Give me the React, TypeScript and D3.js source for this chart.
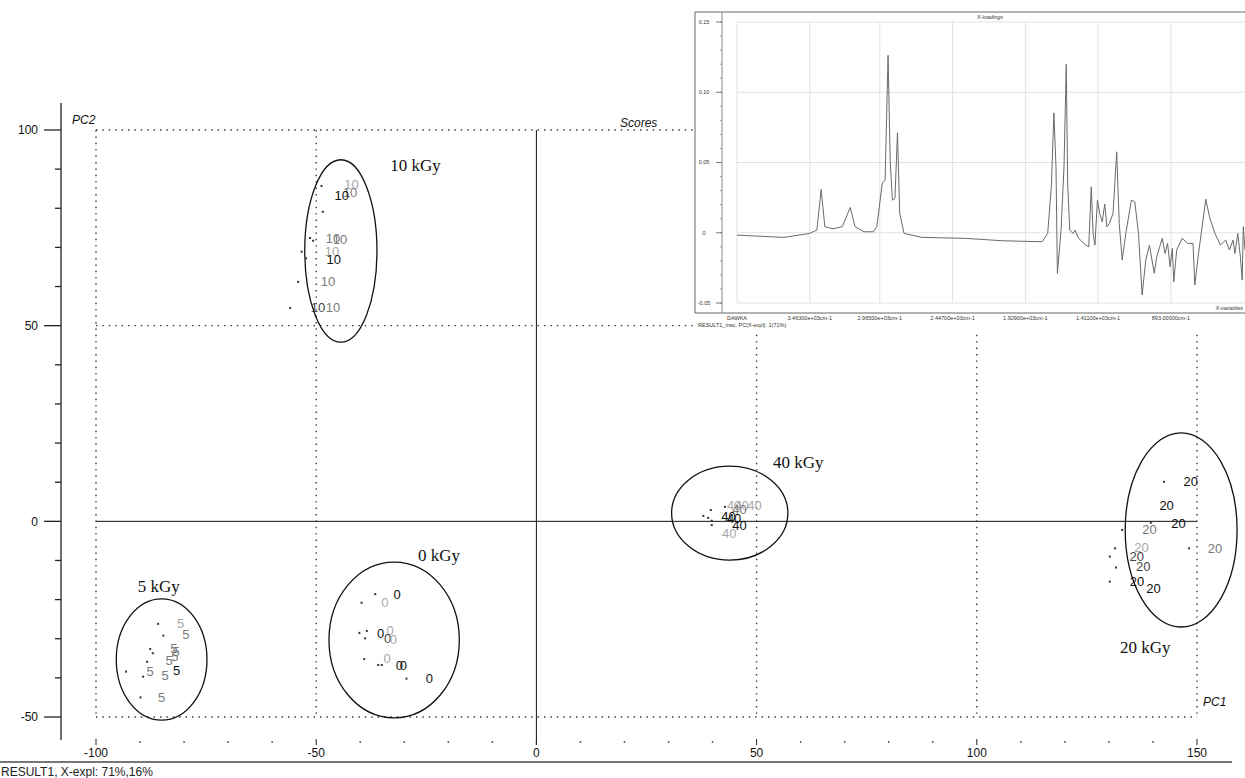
import React, { useEffect, useRef } from 'react';
import * as d3 from 'd3';

const W = 1245;
const H = 778;

// score labels per dose: [PC1, PC2, tone]  tone: 0 black, 1 dark, 2 grey, 3 light
const dose = ['10', '5', '0', '40', '20'];
const labels10 = [[-42.0, 86.0, 3], [-42.3, 84.2, 2], [-44.2, 83.4, 0], [-46.2, 72.4, 2], [-44.6, 72.1, 2],
  [-46.4, 69.1, 3], [-46.0, 67.0, 0], [-47.3, 61.4, 2], [-49.6, 54.8, 1], [-46.2, 54.8, 2]];
const labels5 = [[-80.8, -26.0, 3], [-79.6, -28.8, 2], [-82.3, -32.5, 2], [-81.8, -33.3, 2], [-82.1, -34.4, 2],
  [-83.4, -35.6, 2], [-81.7, -38.0, 0], [-84.3, -39.3, 2], [-87.7, -38.2, 2], [-85.1, -45.0, 2]];
const labels0 = [[-31.6, -18.6, 0], [-34.4, -20.8, 3], [-35.4, -28.5, 0], [-33.2, -27.8, 3], [-33.8, -29.9, 1],
  [-32.5, -30.2, 3], [-33.9, -35.0, 3], [-31.1, -36.7, 0], [-30.2, -36.7, 0], [-24.3, -40.1, 0]];
const labels40 = [[44.9, 4.2, 3], [46.6, 4.2, 3], [49.5, 4.2, 3], [46.1, 3.1, 2], [43.6, 1.4, 0],
  [44.9, 0.8, 0], [46.1, -0.95, 0], [43.8, -3.1, 3]];
const labels20 = [[148.6, 10.1, 0], [143.1, 4.2, 0], [145.8, -0.5, 0], [139.2, -2.0, 2], [137.4, -6.6, 3],
  [154.1, -6.9, 2], [136.3, -8.9, 1], [137.8, -11.6, 1], [136.4, -15.4, 0], [140.1, -17.1, 0]];

// sample markers [PC1, PC2]
const dots10 = [[-48.8, 85.7], [-48.5, 79.1], [-51.4, 72.4], [-50.7, 71.7], [-53.3, 68.9], [-52.3, 67.2], [-54.1, 61.2], [-55.9, 54.5]];
const dots5 = [[-85.9, -26.2], [-84.7, -29.2], [-87.7, -32.6], [-87.1, -33.7], [-88.4, -35.9], [-93.2, -38.4], [-89.3, -39.7], [-89.9, -45.0]];
const dots0 = [[-36.6, -18.6], [-39.7, -20.8], [-40.2, -28.5], [-38.5, -28.0], [-38.9, -29.9], [-39.1, -35.2], [-35.9, -36.7], [-35.1, -36.7], [-29.5, -40.2]];
const dots40 = [[37.9, 1.4], [39.0, 0.9], [39.8, 0.15], [39.6, 2.9], [42.8, 3.7], [39.8, -0.95]];
const dots20 = [[142.5, 10.1], [139.5, -0.35], [133.0, -2.2], [131.4, -6.9], [148.2, -6.9], [130.2, -9.0], [131.6, -11.8], [130.2, -15.4]];

// group ellipses [cx, cy, rx, ry] and caption anchor [PC1, PC2]
const ellipses = [[-44.4, 69.1, 8.2, 23.3], [-85.1, -35.3, 10.3, 15.5], [-32.3, -30.3, 14.8, 19.9], [43.9, 2.1, 13.2, 12.0], [146.4, -2.2, 12.7, 24.8]];
const captions = [[-33.2, 89.5], [-90.5, -18.0], [-26.9, -10.1], [53.7, 13.6], [132.5, -33.7]];

const xTicks = [-100, -50, 0, 50, 100, 150];
const yTicks = [-50, 0, 50, 100];

// inset X-loadings, PC1
const waveNumbers = [3982, 3646, 3465, 3413, 3382, 3356, 3297, 3232, 3175, 3141, 3077, 3012, 2986, 2947, 2927, 2906, 2891,
  2875, 2857, 2839, 2823, 2792, 2663, 2352, 2094, 1809, 1770, 1744, 1726, 1711, 1701, 1675, 1654, 1638, 1628, 1613, 1589,
  1576, 1550, 1499, 1478, 1460, 1447, 1434, 1416, 1400, 1382, 1364, 1349, 1331, 1305, 1279, 1261, 1240, 1214, 1175, 1150,
  1124, 1098, 1072, 1046, 1028, 1012, 994, 955, 935, 917, 899, 883, 873, 852, 813, 774, 736, 723, 697, 671, 645, 619, 580,
  541, 503, 477, 451, 438, 417, 399, 386, 378, 366];
const loadings = [-0.0017, -0.0033, -0.0005, 0.0019, 0.0308, 0.0043, 0.0028, 0.0043, 0.018, 0.0043, 0.0007, 0.0007, 0.0043,
  0.0355, 0.0374, 0.1263, 0.0517, 0.0232, 0.0244, 0.0711, 0.0137, -0.0005, -0.0033, -0.004, -0.0057, -0.0064, -0.0005,
  0.0327, 0.0853, 0.0469, -0.0289, 0.0019, 0.0469, 0.1199, 0.0351, 0.0019, -0.0005, 0.0019, -0.004, -0.0088, -0.01, 0.0327,
  -0.0005, -0.0088, 0.0232, 0.0137, 0.0078, 0.0204, 0.0043, 0.0066, 0.0137, 0.0576, 0.0066, -0.0194, -0.0005, 0.0232, 0.022,
  -0.0005, -0.0443, -0.0194, -0.0088, -0.0194, -0.0289, -0.0171, -0.004, -0.0147, -0.0076, -0.0242, -0.0111, -0.0348,
  -0.0123, -0.004, -0.0076, -0.0076, -0.0372, -0.0147, 0.0043, 0.0239, 0.0114, -0.0005, -0.0088, -0.0052, -0.0123, -0.0052,
  -0.0147, -0.0005, -0.0171, -0.0337, 0.0043, -0.0123];
const insetTicks = [-0.05, 0, 0.05, 0.10, 0.15];
const insetTickText = ['-0.05', '0', '0.05', '0.10', '0.15'];
const waveLabels = ['DAWKA', '3.46300e+03cm-1', '2.96500e+03cm-1', '2.44700e+03cm-1', '1.92900e+03cm-1', '1.41100e+03cm-1', '893.00000cm-1'];
const waveGrid = [3981, 3463, 2965, 2447, 1929, 1411, 893];

const toneColor = ['#111', '#444', '#7a7a7a', '#a8a8a8'];

function App() {
  const ref = useRef<SVGSVGElement>(null);

  useEffect(() => {
    const svg = d3.select(ref.current);
    svg.selectAll('*').remove();

    const x = d3.scaleLinear().domain([-100, 150]).range([96, 1197]);
    const y = d3.scaleLinear().domain([-50, 100]).range([717, 130]);
    const sans = 'Liberation Sans, Arial, sans-serif';

    // dotted grid
    const dotted = svg.append('g').attr('stroke', '#333').attr('stroke-width', 1.4).attr('stroke-dasharray', '1.4,5');
    [-100, -50, 50, 100, 150].forEach(v => {
      dotted.append('line').attr('x1', x(v)).attr('x2', x(v)).attr('y1', y(100)).attr('y2', y(-50));
    });
    [100, 50, -50].forEach(v => {
      dotted.append('line').attr('x1', x(-100)).attr('x2', x(150)).attr('y1', y(v)).attr('y2', y(v));
    });

    // zero lines
    svg.append('line').attr('x1', x(-100)).attr('x2', x(150)).attr('y1', y(0)).attr('y2', y(0)).attr('stroke', '#111');
    svg.append('line').attr('x1', x(0)).attr('x2', x(0)).attr('y1', y(100)).attr('y2', 745).attr('stroke', '#111');

    // y axis
    svg.append('line').attr('x1', 61).attr('x2', 61).attr('y1', 103).attr('y2', 740).attr('stroke', '#222').attr('stroke-width', 1.3);
    d3.range(-50, 101, 10).forEach(v => {
      const major = v % 50 === 0;
      svg.append('line').attr('x1', major ? 44 : 55).attr('x2', 61).attr('y1', y(v)).attr('y2', y(v))
        .attr('stroke', '#222').attr('stroke-width', 1.3);
    });
    svg.selectAll('.ylab').data(yTicks).enter().append('text')
      .attr('x', 38).attr('y', d => y(d)).attr('dy', '0.35em').attr('text-anchor', 'end')
      .attr('font-family', sans).attr('font-size', 12).attr('fill', '#111').text(d => String(d));

    // x axis ticks
    d3.range(-100, 151, 10).forEach(v => {
      const major = v % 50 === 0;
      svg.append('line').attr('x1', x(v)).attr('x2', x(v)).attr('y1', major ? 739 : 741).attr('y2', major ? 745 : 743)
        .attr('stroke', major ? '#222' : '#666').attr('stroke-width', major ? 1 : 1.5);
    });
    svg.selectAll('.xlab').data(xTicks).enter().append('text')
      .attr('x', d => x(d)).attr('y', 757).attr('text-anchor', 'middle')
      .attr('font-family', sans).attr('font-size', 12).attr('fill', '#111').text(d => String(d));

    // axis titles
    const italic = (t: string, px: number, py: number) =>
      svg.append('text').attr('x', px).attr('y', py).attr('font-family', sans).attr('font-style', 'italic')
        .attr('font-size', 12).attr('fill', '#111').text(t);
    italic('PC2', 72, 124);
    italic('Scores', 620, 127);
    italic('PC1', 1203, 706);

    // footer
    svg.append('line').attr('x1', 0).attr('x2', 1232).attr('y1', 762).attr('y2', 762).attr('stroke', '#777').attr('stroke-width', 2);
    svg.append('text').attr('x', 1).attr('y', 776).attr('font-family', sans).attr('font-size', 12).attr('fill', '#222')
      .text('RESULT1, X-expl: 71%,16%');

    // ellipses and captions
    ellipses.forEach(([cx, cy, rx, ry]) => {
      svg.append('ellipse').attr('cx', x(cx)).attr('cy', y(cy))
        .attr('rx', x(cx + rx) - x(cx)).attr('ry', y(cy) - y(cy + ry))
        .attr('fill', 'none').attr('stroke', '#111').attr('stroke-width', 1.3);
    });
    captions.forEach(([cx, cy], i) => {
      svg.append('text').attr('x', x(cx)).attr('y', y(cy)).attr('font-family', 'Liberation Serif, Times New Roman, serif')
        .attr('font-size', 17).attr('fill', '#111').text(`${dose[i]} kGy`);
    });

    // sample dots and labels
    [dots10, dots5, dots0, dots40, dots20].forEach(ds => {
      svg.append('g').selectAll('rect').data(ds).enter().append('rect')
        .attr('x', d => x(d[0]) - 1).attr('y', d => y(d[1]) - 1).attr('width', 2).attr('height', 2).attr('fill', '#333');
    });
    [labels10, labels5, labels0, labels40, labels20].forEach((ls, i) => {
      svg.append('g').selectAll('text').data(ls).enter().append('text')
        .attr('x', d => x(d[0])).attr('y', d => y(d[1])).attr('dy', '0.36em').attr('text-anchor', 'middle')
        .attr('font-family', sans).attr('font-size', 13).attr('fill', d => toneColor[d[2]]).text(dose[i]);
    });

    // inset: X-loadings
    const inset = svg.append('g');
    inset.append('rect').attr('x', 694).attr('y', 12).attr('width', W - 694).attr('height', 318).attr('fill', '#fff');
    const ix = d3.scaleLinear().domain([3981, 366]).range([737, 1245]);
    const iy = d3.scaleLinear().domain([-0.05, 0.15]).range([303, 22]);
    waveGrid.forEach(w => {
      inset.append('line').attr('x1', ix(w)).attr('x2', ix(w)).attr('y1', 22).attr('y2', 303).attr('stroke', '#e2e2e2');
    });
    insetTicks.forEach(t => {
      inset.append('line').attr('x1', 737).attr('x2', W).attr('y1', iy(t)).attr('y2', iy(t)).attr('stroke', '#e2e2e2');
    });
    inset.append('line').attr('x1', 695).attr('x2', W).attr('y1', 12).attr('y2', 12).attr('stroke', '#666');
    inset.append('line').attr('x1', 695).attr('x2', 695).attr('y1', 12).attr('y2', 313).attr('stroke', '#666');
    inset.append('line').attr('x1', 695).attr('x2', W).attr('y1', 313).attr('y2', 313).attr('stroke', '#666');
    inset.append('line').attr('x1', 722).attr('x2', 722).attr('y1', 12).attr('y2', 313).attr('stroke', '#888');
    d3.range(-0.05, 0.151, 0.01).forEach(t => {
      inset.append('line').attr('x1', 720).attr('x2', 722).attr('y1', iy(t)).attr('y2', iy(t)).attr('stroke', '#999');
    });
    insetTicks.forEach((t, i) => {
      inset.append('line').attr('x1', 716).attr('x2', 722).attr('y1', iy(t)).attr('y2', iy(t)).attr('stroke', '#777');
      inset.append('text').attr('x', 704).attr('y', iy(t)).attr('dy', '0.35em').attr('text-anchor', 'middle')
        .attr('font-family', sans).attr('font-size', 5.5).attr('fill', '#333').text(insetTickText[i]);
    });
    waveGrid.forEach((w, i) => {
      inset.append('text').attr('x', ix(w)).attr('y', 320).attr('text-anchor', 'middle')
        .attr('font-family', sans).attr('font-size', 5.5).attr('fill', '#333').text(waveLabels[i]);
    });
    inset.append('text').attr('x', 990).attr('y', 19).attr('text-anchor', 'middle').attr('font-family', sans)
      .attr('font-style', 'italic').attr('font-size', 5.5).attr('fill', '#333').text('X-loadings');
    inset.append('text').attr('x', 1243).attr('y', 310).attr('text-anchor', 'end').attr('font-family', sans)
      .attr('font-style', 'italic').attr('font-size', 5.5).attr('fill', '#333').text('X-variables');
    inset.append('text').attr('x', 698).attr('y', 327).attr('font-family', sans)
      .attr('font-size', 5.5).attr('fill', '#333').text('RESULT1_msc, PC(X-expl): 1(71%)');

    const line = d3.line<number>().x((_, i) => ix(waveNumbers[i])).y(d => iy(d));
    inset.append('path').attr('d', line(loadings)).attr('fill', 'none').attr('stroke', '#6a6a6a').attr('stroke-width', 1);
  }, []);

  return (
    <svg ref={ref} width={W} height={H} style={{ position: 'absolute', left: 0, top: 0, background: '#fff' }} />
  );
}

export default App;
